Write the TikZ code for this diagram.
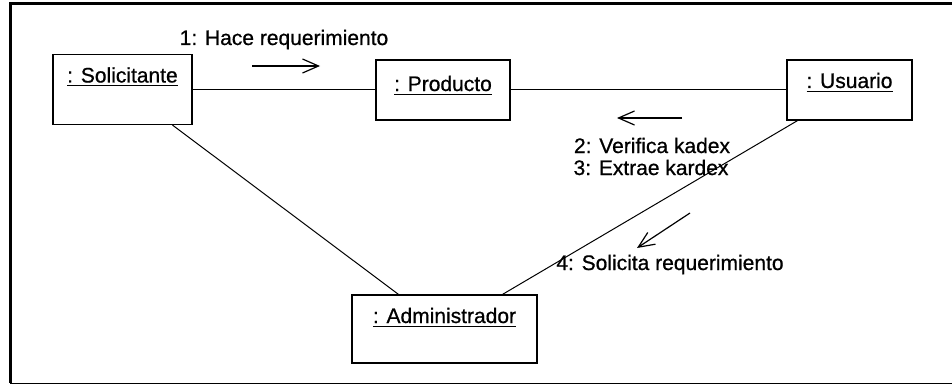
\documentclass[tikz,border=0pt]{standalone}
\usepackage{fontspec}
\setmainfont[FakeBold=0.7]{Liberation Sans}
\usetikzlibrary{arrows.meta,calc}

\begin{document}
\begin{tikzpicture}[x=0.5pt, y=-0.5pt, font=\fontsize{10.5}{12}\selectfont,
	obj/.style={draw, line width=0.6pt, inner sep=0pt, text height=14pt},
	link/.style={line width=0.5pt},
	msg/.style={line width=0.6pt, -{Straight Barb[length=8pt,width=7pt]}}]
\useasboundingbox (0,0) rectangle (952,385);
\draw[line width=1.5pt] (952,4) -- (10,4) -- (10,383);
\draw[line width=0.5pt] (10,383) -- (952,383);

\node[obj, minimum width=69.5pt, text depth=21pt] (sol) at (122.5,89.5) {\underline{: Solicitante}};
\node[obj, minimum width=67pt, text height=15.5pt, text depth=14.5pt] (prod) at (443,90) {\underline{: Producto}};
\node[obj, minimum width=62.5pt, text depth=16pt] (usu) at (849.5,90) {\underline{: Usuario}};
\node[obj, minimum width=92.5pt, text depth=20pt] (adm) at (444.5,329) {\underline{: Administrador}};

\draw[link] (sol.east |- prod.west) -- (prod.west);
\draw[link] (prod) -- (usu);
\draw[link] ($(sol.south)+(50,0)$) -- ($(adm.north)+(-46,0)$);
\draw[link] ($(usu.south)+(-52,0)$) -- ($(adm.north)+(58,0)$);

\coordinate (m1a) at (252,66);
\coordinate (m1b) at (320,66);
\draw[msg] (m1a) -- (m1b);
\node[anchor=base] (m1) at (284,45) {1: Hace requerimiento};

\coordinate (m2a) at (682,118);
\coordinate (m2b) at (617,118);
\draw[msg] (m2a) -- (m2b);
\node[anchor=base] (m2) at (652,153) {2: Verifica kadex};
\node[anchor=base] (m3) at (651,175) {3: Extrae kardex};

\coordinate (m4a) at (690,213);
\coordinate (m4b) at (637,248);
\draw[msg] (m4a) -- (m4b);
\node[anchor=base] (m4) at (670,270) {4: Solicita requerimiento};

\end{tikzpicture}
\end{document}
